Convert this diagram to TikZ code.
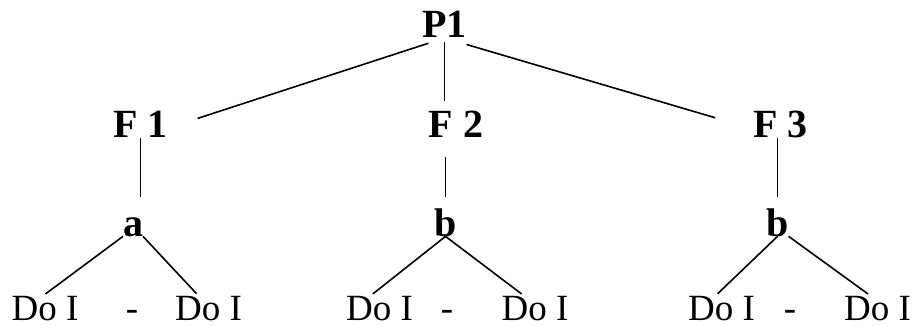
\documentclass[tikz,border=0pt]{standalone}
\usepackage{fontspec}
\setmainfont{Liberation Serif}
\begin{document}
\begin{tikzpicture}[
  x=1pt, y=-1pt,
  lvl/.style={font=\fontsize{40}{40}\selectfont\bfseries,
    inner sep=0pt,outer sep=0pt,anchor=base},
  leaf/.style={font=\fontsize{37}{37}\selectfont,
    inner sep=0pt,outer sep=0pt,anchor=base},
  link/.style={draw,black,line width=1.6pt}]
\useasboundingbox (0,0) rectangle (912,326);
% root and the three F levels
\node[lvl] (P1) at (444.5,38) {P1};
\node[lvl] (F1) at (140.5,137) {F 1};
\node[lvl] (F2) at (456,137) {F 2};
\node[lvl] (F3) at (780.5,137) {F 3};
\node[lvl] (a1) at (133,236) {a};
\node[lvl] (b2) at (445.5,236) {b};
\node[lvl] (b3) at (777.5,236) {b};
% leaves
\node[leaf] (d1l) at (45,320) {Do I};
\node[leaf] (m1) at (132,320) {-};
\node[leaf] (d1r) at (208.5,320) {Do I};
\node[leaf] (d2l) at (379.5,320) {Do I};
\node[leaf] (m2) at (447,320) {-};
\node[leaf] (d2r) at (535,320) {Do I};
\node[leaf] (d3l) at (721.5,320) {Do I};
\node[leaf] (m3) at (790,320) {-};
\node[leaf] (d3r) at (877.5,320) {Do I};
% root to F
\draw[link,shorten <=17pt,shorten >=60pt] (P1.base) -- (F1.base);
\draw[link,shorten <=4pt,shorten >=10pt] (P1.south) -- (P1.south |- F2.north);
\draw[link,shorten <=23pt,shorten >=68pt] (P1.base) -- (F3.base);
% F to a / b
\draw[link,shorten <=1pt,shorten >=20pt] (F1.south) -- (F1.south |- a1.north);
\draw[link,shorten <=20pt,shorten >=11pt] (b2.north |- F2.south) -- (b2.north);
\draw[link,shorten <=1pt,shorten >=11pt] (b3.north |- F3.south) -- (b3.north);
% a / b to leaves
\draw[link,shorten >=3pt] (a1.south west) -- ([xshift=-2pt]d1l.north);
\draw[link,shorten >=3pt] (a1.south east) -- ([xshift=-10pt]d1r.north);
\draw[link,shorten >=3pt] (b2.south) -- ([xshift=-9pt]d2l.north);
\draw[link,shorten >=3pt] (b2.south) -- ([xshift=-11pt]d2r.north);
\draw[link,shorten >=3pt] (b3.south) -- ([xshift=-6pt]d3l.north);
\draw[link,shorten >=3pt] (b3.south east) -- ([xshift=-7pt]d3r.north);
\end{tikzpicture}
\end{document}
